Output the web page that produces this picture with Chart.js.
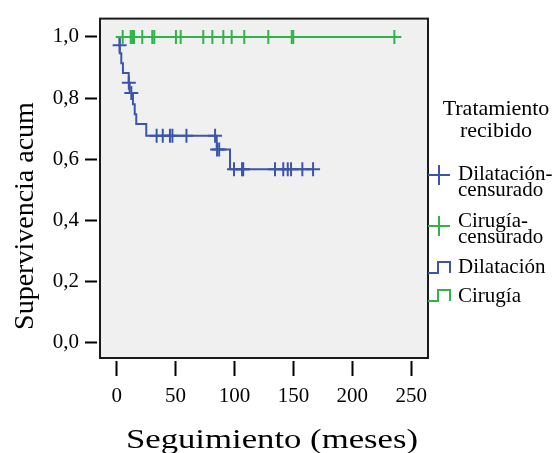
<!DOCTYPE html>
<html>
<head>
<meta charset="utf-8">
<script src="https://cdn.jsdelivr.net/npm/chart.js@4"></script>
<style>
  body { margin: 0; background: #fff; }
  #wrap { width: 554px; height: 453px; }
</style>
</head>
<body>
<div id="wrap"><canvas id="km" width="554" height="453"></canvas></div>
<script>
const xTicks = [0, 50, 100, 150, 200, 250];
const yTicks = [0, 0.2, 0.4, 0.6, 0.8, 1.0];

// Dilatación: event times (months) and survival after each event
const dilTimes = [0, 2.5, 2.6, 3.9, 5.3, 10.2, 11.0, 13.8, 15.3, 16.6, 25.1, 84.9, 96.2, 166.7];
const dilSurv = [1, 0.973, 0.947, 0.914, 0.882, 0.850, 0.817, 0.780, 0.747, 0.715, 0.677, 0.632, 0.567, 0.567];
const dilCensored = [2.5, 10.3, 12.4, 33.9, 39.1, 45.2, 47.3, 59.2, 83.5, 85.2, 87.0, 99.6, 106.4, 107.4, 134.4, 141.4, 145.2, 148.0, 157.6, 166.7];

// Cirugía: no events
const cirTimes = [0, 235.7];
const cirSurv = [1, 1];
const cirCensored = [5.1, 11.9, 13.2, 14.7, 21.7, 30.2, 31.9, 50.3, 54.3, 73.5, 81.2, 90.5, 97.6, 108.3, 128.7, 148.6, 149.9, 235.7];

const legendTitle = ['Tratamiento', 'recibido'];
const legendLabels = [['Dilatación-', 'censurado'], ['Cirugía-', 'censurado'], ['Dilatación'], ['Cirugía']];
const xTitle = 'Seguimiento (meses)';
const yTitle = 'Supervivencia acum';

const blue = '#3d55a8';
const green = '#2fb44a';
const serif = '"Liberation Serif", "Times New Roman", serif';

function survAt(times, surv, t) {
    let s = surv[0];
    for (let i = 0; i < times.length; i++) {
        if (times[i] <= t) s = surv[i];
    }
    return s;
}

const curve = (times, surv) => times.map((t, i) => ({ x: t, y: surv[i] }));
const marks = (cens, times, surv) => cens.map(t => ({ x: t, y: survAt(times, surv, t) }));

const frame = {
    id: 'frame',
    beforeDatasetsDraw(chart) {
        const a = chart.chartArea;
        const ctx = chart.ctx;
        const l = a.left + 3, b = a.bottom - 3;
        ctx.save();
        ctx.fillStyle = '#f0f0f0';
        ctx.fillRect(l, a.top, a.right - l, b - a.top);
        ctx.strokeStyle = '#1a1a1a';
        ctx.lineWidth = 2;
        ctx.strokeRect(l, a.top, a.right - l, b - a.top);
        ctx.restore();
    },
    afterDraw(chart) {
        const ctx = chart.ctx;
        ctx.save();
        ctx.fillStyle = '#000';

        // y title
        ctx.save();
        ctx.translate(33, 216);
        ctx.rotate(-Math.PI / 2);
        ctx.font = '28px ' + serif;
        ctx.textAlign = 'center';
        ctx.textBaseline = 'alphabetic';
        ctx.fillText(yTitle, 0, 0);
        ctx.restore();

        // x title (slightly stretched like the original)
        ctx.save();
        ctx.translate(272, 448);
        ctx.scale(1.24, 1);
        ctx.font = '28px ' + serif;
        ctx.textAlign = 'center';
        ctx.textBaseline = 'alphabetic';
        ctx.fillText(xTitle, 0, 0);
        ctx.restore();

        // legend
        ctx.font = '22px ' + serif;
        ctx.textAlign = 'center';
        ctx.fillText(legendTitle[0], 496, 115);
        ctx.fillText(legendTitle[1], 496, 137);

        ctx.font = '21px ' + serif;
        ctx.textAlign = 'left';
        const baselines = [[180, 196], [227, 243], [273], [302]];
        legendLabels.forEach((lines, i) => {
            lines.forEach((txt, j) => ctx.fillText(txt, 458, baselines[i][j]));
        });

        ctx.lineWidth = 2;
        const cross = (cx, cy, col) => {
            ctx.strokeStyle = col;
            ctx.beginPath();
            ctx.moveTo(cx - 11, cy); ctx.lineTo(cx + 11, cy);
            ctx.moveTo(cx, cy - 10); ctx.lineTo(cx, cy + 10);
            ctx.stroke();
        };
        cross(439, 175, blue);
        cross(439, 226, green);

        const step = (by, col) => {
            ctx.strokeStyle = col;
            ctx.beginPath();
            ctx.moveTo(428, by);
            ctx.lineTo(438, by);
            ctx.lineTo(438, by - 11);
            ctx.lineTo(450, by - 11);
            ctx.lineTo(450, by);
            ctx.stroke();
        };
        step(273, blue);
        step(301, green);
        ctx.restore();
    }
};

new Chart(document.getElementById('km'), {
    type: 'line',
    data: {
        datasets: [
            {
                label: 'Cirugía-censurado',
                type: 'scatter',
                data: marks(cirCensored, cirTimes, cirSurv),
                pointStyle: 'cross',
                pointRadius: 7,
                borderColor: green,
                borderWidth: 2
            },
            {
                label: 'Cirugía',
                data: curve(cirTimes, cirSurv),
                stepped: 'before',
                borderColor: green,
                borderWidth: 2,
                pointRadius: 0,
                fill: false
            },
            {
                label: 'Dilatación-censurado',
                type: 'scatter',
                data: marks(dilCensored, dilTimes, dilSurv),
                pointStyle: 'cross',
                pointRadius: 7,
                borderColor: blue,
                borderWidth: 2
            },
            {
                label: 'Dilatación',
                data: curve(dilTimes, dilSurv),
                stepped: 'before',
                borderColor: blue,
                borderWidth: 2,
                pointRadius: 0,
                fill: false
            }
        ]
    },
    options: {
        responsive: false,
        animation: false,
        events: [],
        layout: { padding: { top: 14, right: 126, left: 0, bottom: 0 } },
        plugins: {
            legend: { display: false },
            tooltip: { enabled: false }
        },
        scales: {
            x: {
                type: 'linear',
                min: -16.72,
                max: 264.26,
                afterBuildTicks: s => { s.ticks = xTicks.map(v => ({ value: v })); },
                afterFit: s => { s.height = 92; },
                border: { display: false },
                grid: {
                    drawOnChartArea: false,
                    drawTicks: true,
                    tickLength: 15,
                    tickWidth: 2,
                    tickColor: '#000'
                },
                ticks: {
                    color: '#000',
                    font: { family: serif, size: 21 },
                    padding: 8,
                    maxRotation: 0,
                    callback: v => String(v)
                }
            },
            y: {
                type: 'linear',
                min: -0.06,
                max: 1.06,
                afterBuildTicks: s => { s.ticks = yTicks.map(v => ({ value: v })); },
                afterFit: s => { s.width = 97; },
                border: { display: false },
                grid: {
                    drawOnChartArea: false,
                    drawTicks: true,
                    tickLength: 12,
                    tickWidth: 2,
                    tickColor: '#000'
                },
                ticks: {
                    color: '#000',
                    font: { family: serif, size: 21 },
                    padding: 6,
                    callback: v => v.toFixed(1).replace('.', ',')
                }
            }
        }
    },
    plugins: [frame]
});
</script>
</body>
</html>
